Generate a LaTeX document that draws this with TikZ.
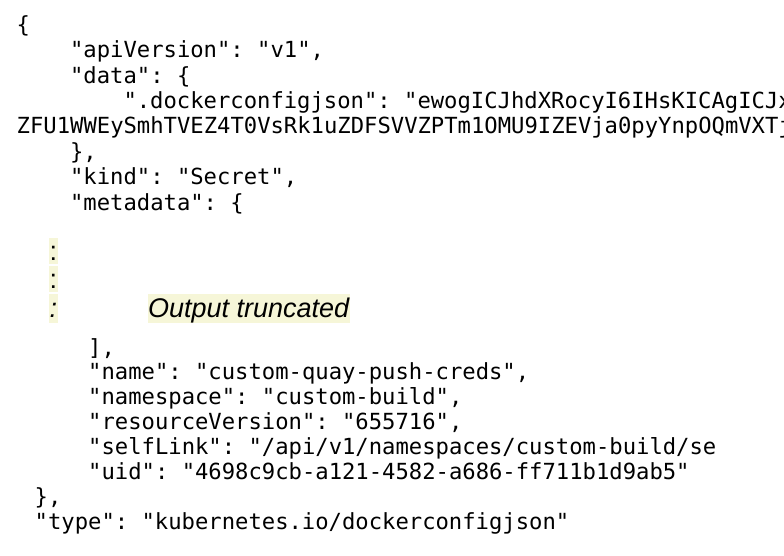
\documentclass[tikz,border=0pt]{standalone}
\usepackage{fontspec}
\usepackage{tikz}
\setmonofont{DejaVu Sans Mono}
\newfontfamily\notefont{Liberation Sans}
\definecolor{hlyellow}{RGB}{246,246,216}
\tikzstyle{code}=[anchor=base west, inner sep=0pt, font=\ttfamily\fontsize{22.2}{25}\selectfont]
\tikzstyle{hilite}=[anchor=base west, inner xsep=0.4pt, inner ysep=0pt, fill=hlyellow, font=\notefont\fontsize{27}{30}\selectfont]

\begin{document}
\begin{tikzpicture}[x=1pt, y=-1pt]
      \clip (0,0) rectangle (784,555);
      % top of the listing
      \node at (16.5,32) [code] (open) {\{};
      \node at (69.9,57.5) [code] (apiversion) {"apiVersion": "v1",};
      \node at (69.9,83) [code] (data) {"data": \{};
      \node at (123.3,108.5) [code] (dockercfg) {".dockerconfigjson": "ewogICJhdXRocyI6IHsKICAgICJx};
      \node at (16.5,133.5) [code] (wrapped) {ZFU1WWEySmhTVEZ4T0VsRk1uZDFSVVZPTm1OMU9IZEVja0pyYnpOQmVXTj};
      \node at (69.9,159) [code] (dataclose) {\},};
      \node at (69.9,184.5) [code] (kind) {"kind": "Secret",};
      \node at (69.9,210) [code] (metadata) {"metadata": \{};
      %
      \node at (49,260.5) [hilite, text height=22.5pt, text depth=3.5pt] (dots1) {:};
      \node at (49,288.5) [hilite, text height=22.5pt, text depth=3.5pt] (dots2) {:};
      \node at (49,317) [hilite, text height=23pt, text depth=6pt] (dots3) {\itshape :};
      \node at (147.5,317) [hilite, text height=23pt, text depth=6pt] (truncated) {\itshape Output truncated};
      % bottom of the listing
      \node at (88,355) [code] (listclose) {],};
      \node at (88,379.9) [code] (name) {"name": "custom-quay-push-creds",};
      \node at (88,404.7) [code] (namespace) {"namespace": "custom-build",};
      \node at (88,429.6) [code] (resversion) {"resourceVersion": "655716",};
      \begin{scope}
        \clip (0,430) rectangle (714,470);
        \node at (88,454.4) [code] (selflink) {"selfLink": "/api/v1/namespaces/custom-build/secrets",};
      \end{scope}
      \node at (88,479.3) [code] (uid) {"uid": "4698c9cb-a121-4582-a686-ff711b1d9ab5"};
      \node at (34.5,504.1) [code] (metaclose) {\},};
      \node at (34.5,529) [code] (type) {"type": "kubernetes.io/dockerconfigjson"};
      %
\end{tikzpicture}
\end{document}
